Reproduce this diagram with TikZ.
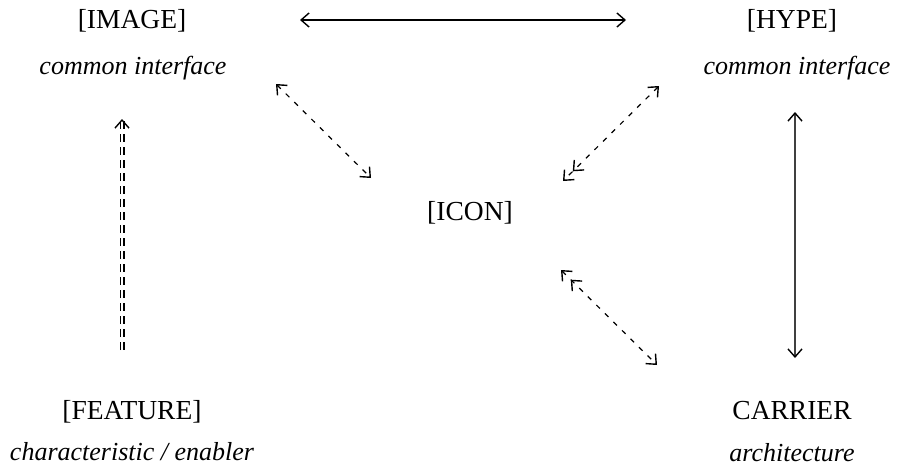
\documentclass[tikz,border=0pt]{standalone}
\usepackage{fontspec}
\setmainfont{Liberation Serif}
\usetikzlibrary{arrows.meta}
\begin{document}
\begin{tikzpicture}[x=1pt,y=-1pt,
  lbl/.style={inner sep=0pt, font=\fontsize{27.5}{32}\selectfont},
  sub/.style={inner sep=0pt, font=\fontsize{26}{30}\selectfont\itshape},
  conn/.style={line width=1.2pt, black},
  tip/.tip={Straight Barb[length=8pt,width=14pt,line width=1.4pt]},
  dtip/.tip={Straight Barb[length=8pt,width=14pt,line width=1.4pt,sep=4pt] Straight Barb[length=8pt,width=14pt,line width=1.4pt]},
  dsh/.style={dash pattern=on 5pt off 7pt}]
\useasboundingbox (0,0) rectangle (904,474);
% labels
\node[lbl] (image) at (132,21) {[IMAGE]};
\node[sub] (imagesub) at (133,68) {common interface};
\node[lbl] (hype) at (792,21) {[HYPE]};
\node[sub] (hypesub) at (797,68) {common interface};
\node[lbl] (icon) at (470,213) {[ICON]};
\node[lbl] (feature) at (132,412) {[FEATURE]};
\node[sub] (featuresub) at (132,452) {characteristic / enabler};
\node[lbl] (carrier) at (792,411) {CARRIER};
\node[sub] (carriersub) at (792,453) {architecture};
% connector end points
\coordinate (t1) at (300,20);
\coordinate (t2) at (626,20);
\coordinate (a1) at (276,84);
\coordinate (a2) at (371,178);
\coordinate (b1) at (659,86);
\coordinate (b2) at (563,181);
\coordinate (c1) at (561,270);
\coordinate (c2) at (657,365);
\coordinate (l1) at (122,350);
\coordinate (l2) at (122,119);
\coordinate (r1) at (795,112);
\coordinate (r2) at (795,358);
% connectors
\draw[conn,{tip}-{tip}] (t1) -- (t2);
\draw[conn,dsh,{tip}-{tip}] (a1) -- (a2);
\draw[conn,dsh,{tip}-{dtip}] (b1) -- (b2);
\draw[conn,dsh,{dtip}-{tip}] (c1) -- (c2);
\draw[line width=1.3pt, double distance=2.4pt, dash pattern=on 8pt off 5pt, -{Straight Barb[length=8pt,width=14pt,line width=1.4pt]}] (l1) -- (l2);
\draw[line width=1.8pt, black!75, {Straight Barb[length=8pt,width=14pt,line width=1.4pt,black]}-{Straight Barb[length=8pt,width=14pt,line width=1.4pt,black]}] (r1) -- (r2);
\end{tikzpicture}
\end{document}
